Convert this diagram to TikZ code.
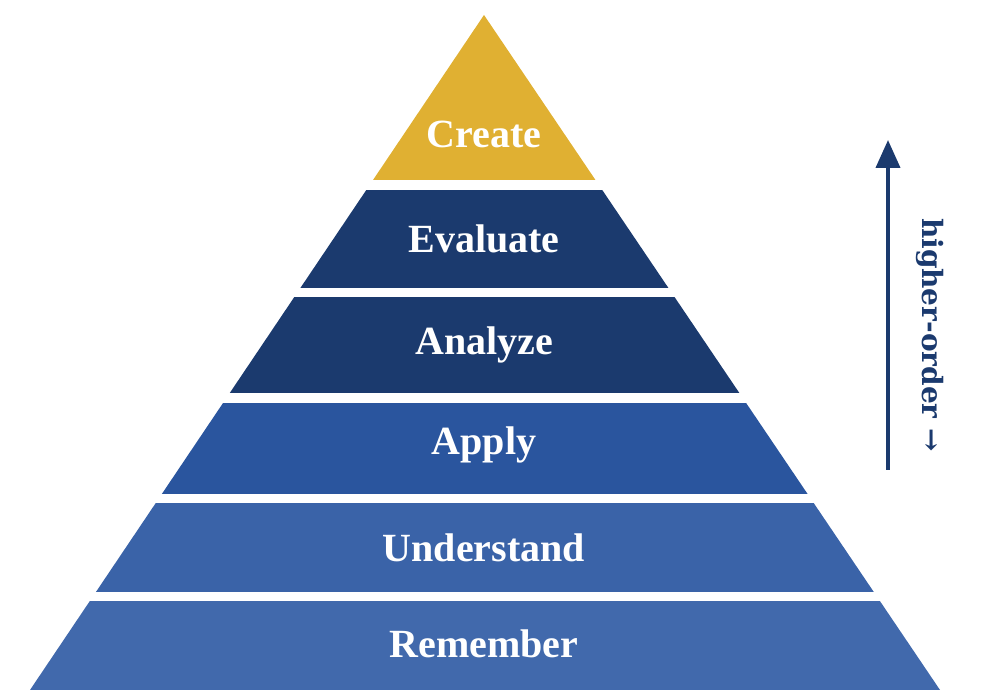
\documentclass[tikz,border=0pt]{standalone}
\usepackage{fontspec}
\setmainfont{Liberation Serif}
\newfontfamily\dejavu{DejaVu Serif}
\usetikzlibrary{arrows.meta}
\definecolor{gold}{HTML}{E0B032}
\definecolor{navy}{HTML}{1B3A6E}
\definecolor{midblue}{HTML}{2A559E}
\definecolor{litblue}{HTML}{3A63A8}
\definecolor{lowblue}{HTML}{4169AC}
\tikzset{lbl/.style={text=white,font=\fontsize{40}{40}\selectfont\bfseries}}
\begin{document}
\begin{tikzpicture}[x=1pt,y=1pt]
\useasboundingbox (0,0) rectangle (1000,700);
\begin{scope}
\clip (484,685) -- (30,10) -- (940,10) -- cycle;
\fill[gold] (0,520) rectangle (1000,700);
\fill[navy] (0,412) rectangle (1000,510);
\fill[navy] (0,307) rectangle (1000,403);
\fill[midblue] (0,206) rectangle (1000,297);
\fill[litblue] (0,108) rectangle (1000,197);
\fill[lowblue] (0,0) rectangle (1000,99);
\end{scope}
\node[lbl] (create) at (484,566) {Create};
\node[lbl] (evaluate) at (484,461) {Evaluate};
\node[lbl] (analyze) at (484,355) {Analyze};
\node[lbl] (apply) at (484,255) {Apply};
\node[lbl] (understand) at (484,152) {Understand};
\node[lbl] (remember) at (484,56) {Remember};
\coordinate (a0) at (888,230);
\coordinate (a1) at (888,560);
\draw[navy,line width=4,-{Triangle[length=28,width=24]}] (a0) -- (a1);
\node[text=navy,rotate=-90,font=\dejavu\fontsize{28}{28}\selectfont\bfseries] (hl) at (930,365) {higher-order →};
\end{tikzpicture}
\end{document}
